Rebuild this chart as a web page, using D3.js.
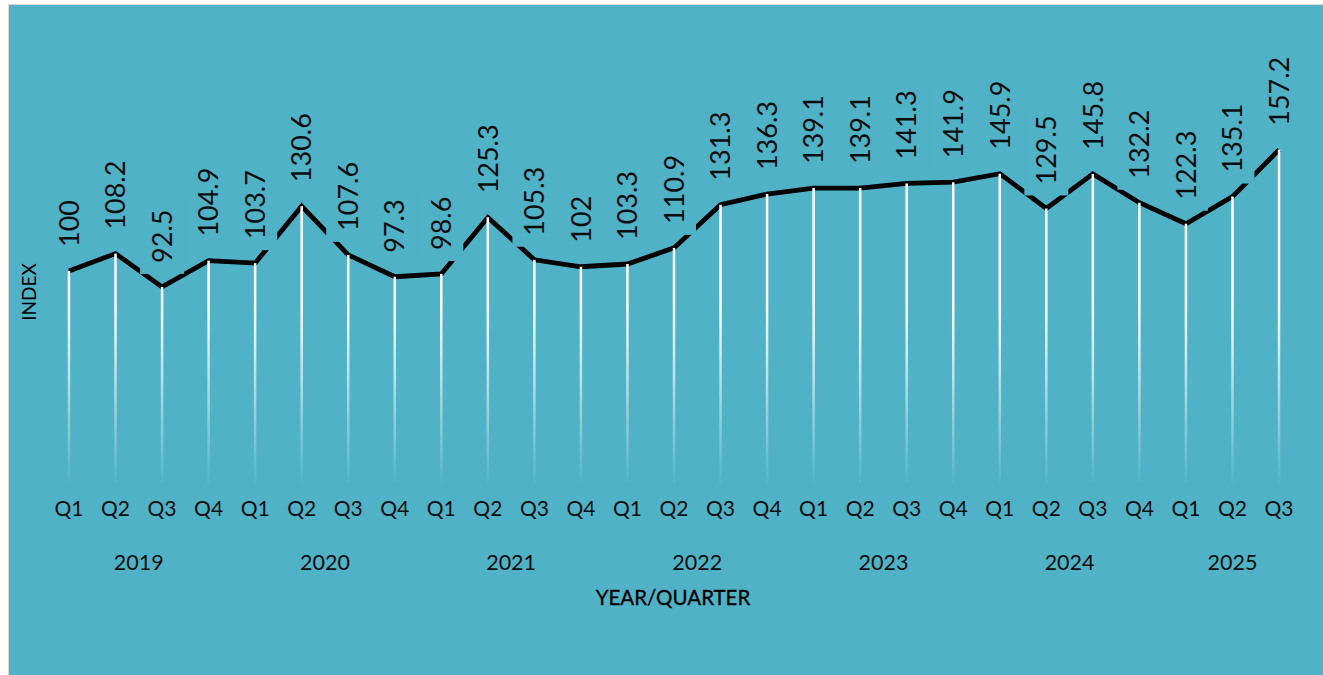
<!DOCTYPE html>
<html>
<head>
<meta charset="utf-8">
<script src="https://cdn.jsdelivr.net/npm/d3@7/dist/d3.min.js"></script>
<style>
  html, body { margin: 0; padding: 0; background: #ffffff; }
  svg { display: block; }
</style>
</head>
<body>
<svg id="chart" width="1323" height="675"></svg>
<script>
// ---- data ----
const years = ["2019", "2020", "2021", "2022", "2023", "2024", "2025"];
const quarters = [
  "Q1","Q2","Q3","Q4",
  "Q1","Q2","Q3","Q4",
  "Q1","Q2","Q3","Q4",
  "Q1","Q2","Q3","Q4",
  "Q1","Q2","Q3","Q4",
  "Q1","Q2","Q3","Q4",
  "Q1","Q2","Q3"
];
const quarterYear = [
  "2019","2019","2019","2019",
  "2020","2020","2020","2020",
  "2021","2021","2021","2021",
  "2022","2022","2022","2022",
  "2023","2023","2023","2023",
  "2024","2024","2024","2024",
  "2025","2025","2025"
];
const indexValues = [
  100, 108.2, 92.5, 104.9,
  103.7, 130.6, 107.6, 97.3,
  98.6, 125.3, 105.3, 102,
  103.3, 110.9, 131.3, 136.3,
  139.1, 139.1, 141.3, 141.9,
  145.9, 129.5, 145.8, 132.2,
  122.3, 135.1, 157.2
];
const yDomain = [0, 200];

// ---- setup ----
const W = 1323, H = 675;
const BG = "#50b2c7";
const TXT = "#0d0d0d";
const FONT = "Lato, 'Open Sans', sans-serif";
const svg = d3.select("#chart");

// chart area with light border
svg.append("rect").attr("x", 8.5).attr("y", 4.5).attr("width", W).attr("height", H)
  .attr("fill", BG).attr("stroke", "#d9d9d9").attr("stroke-width", 1);

const idx = d3.range(indexValues.length);
const x = d3.scaleBand().domain(idx).range([45.7, 1302.3]).padding(0);
const cx = i => x(i) + x.bandwidth() / 2;
const y = d3.scaleLinear().domain(yDomain).range([483, 59]);

// gradient for drop lines
const defs = svg.append("defs");
const grad = defs.append("linearGradient").attr("id", "dropGrad")
  .attr("gradientUnits", "userSpaceOnUse")
  .attr("x1", 0).attr("x2", 0).attr("y1", y(85)).attr("y2", y(0));
grad.append("stop").attr("offset", 0).attr("stop-color", "#ffffff").attr("stop-opacity", 1);
grad.append("stop").attr("offset", 1).attr("stop-color", "#ffffff").attr("stop-opacity", 0.03);

// line
const line = d3.line().x((d, i) => cx(i)).y(d => y(d));
svg.append("path").datum(indexValues)
  .attr("d", line)
  .attr("fill", "none")
  .attr("stroke", "#000")
  .attr("stroke-width", 4.8)
  .attr("stroke-linejoin", "miter");

// label backgrounds (cover the line like the label boxes do)
const LFS = 27;
const labelGap = 24;
const fmt = v => String(v);
const labels = svg.append("g");
idx.forEach(i => {
  const v = indexValues[i];
  const px = cx(i), py = y(v);
  const t = labels.append("text")
    .attr("transform", `translate(${px + 0.36 * LFS},${py - labelGap}) rotate(-90)`)
    .attr("font-family", FONT).attr("font-size", LFS).attr("fill", TXT)
    .text(fmt(v));
  const len = t.node().getComputedTextLength();
  labels.insert("rect", "text")
    .attr("x", px - 22).attr("width", 44)
    .attr("y", py - labelGap - len - 10).attr("height", len + 10 + (labelGap - 13))
    .attr("fill", BG);
});

// drop lines
svg.append("g").selectAll("line").data(idx).join("line")
  .attr("x1", i => cx(i)).attr("x2", i => cx(i))
  .attr("y1", i => y(indexValues[i]) ).attr("y2", y(0))
  .attr("stroke", "url(#dropGrad)").attr("stroke-width", 2.5);

svg.node().appendChild(labels.node());

// x axis: quarters
const xAxis = d3.axisBottom(x).tickSize(0).tickPadding(0).tickFormat(i => quarters[i]);
const gx = svg.append("g").attr("transform", "translate(0,501)").call(xAxis);
gx.select(".domain").remove();
gx.selectAll("text").attr("font-family", FONT).attr("font-size", 21).attr("fill", TXT)
  .attr("dy", "0.71em");

// year labels
years.forEach(yr => {
  const members = idx.filter(i => quarterYear[i] === yr);
  const mid = (cx(members[0]) + cx(members[members.length - 1])) / 2;
  svg.append("text").attr("x", mid).attr("y", 570)
    .attr("text-anchor", "middle")
    .attr("font-family", FONT).attr("font-size", 21.5).attr("fill", TXT)
    .text(yr);
});

// axis titles
svg.append("text").attr("x", 673).attr("y", 605)
  .attr("text-anchor", "middle")
  .attr("font-family", FONT).attr("font-size", 20.5).attr("fill", "#000")
  .attr("stroke", "#000").attr("stroke-width", 0.3)
  .text("YEAR/QUARTER");
svg.append("text")
  .attr("transform", "translate(36,292) rotate(-90)")
  .attr("text-anchor", "middle")
  .attr("font-family", FONT).attr("font-size", 19).attr("fill", "#000")
  .text("INDEX");
</script>
</body>
</html>
